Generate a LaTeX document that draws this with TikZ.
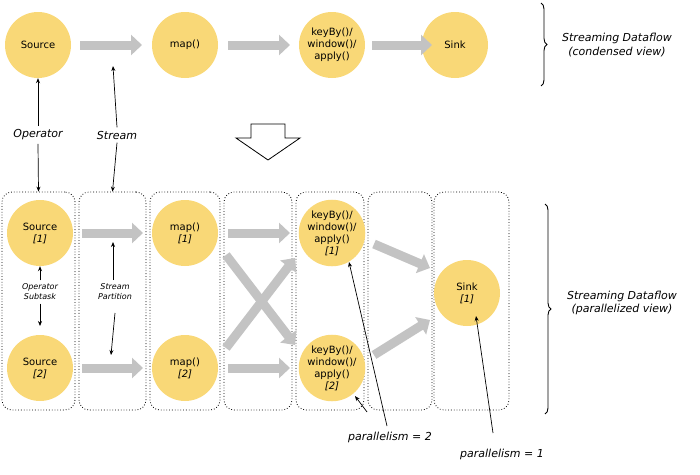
\documentclass[tikz,border=0pt]{standalone}
\usepackage{fontspec}
\setmainfont{DejaVu Sans}
\usetikzlibrary{arrows.meta,decorations.pathreplacing}
\definecolor{opy}{HTML}{F9D877}
\definecolor{flowg}{HTML}{C3C3C3}
\begin{document}
\begin{tikzpicture}[x=1pt,y=-1pt,
  op/.style={circle,fill=opy,minimum size=66pt,inner sep=0pt,align=center,font=\fontsize{10}{12}\selectfont},
  flow/.style={draw=flowg,line width=9pt,-{Triangle[length=11pt,width=20pt]}},
  col/.style={draw,dotted,rounded corners=10pt,line width=0.8pt},
  lab/.style={font=\fontsize{11}{13.5}\selectfont\itshape,align=center},
  slab/.style={font=\fontsize{8}{10}\selectfont\itshape,align=center},
  ptr/.style={-{Stealth[length=5pt,width=4pt]},line width=0.7pt},
  brace/.style={decorate,decoration={brace,amplitude=6pt},line width=0.9pt}]
\useasboundingbox (0,0) rectangle (700,474);
% top
\node[op] (s) at (38,45) {Source};
\node[op] (m) at (185,45) {map()};
\node[op] (k) at (332,45) {keyBy()/\\window()/\\apply()};
\node[op] (sk) at (455,45) {Sink};
\coordinate (a1) at (80,45); \coordinate (a2) at (142,45);
\coordinate (b1) at (228,45); \coordinate (b2) at (290,45);
\coordinate (c1) at (372,45); \coordinate (c2) at (432,45);
\draw[flow] (a1) -- (a2); \draw[flow] (b1) -- (b2); \draw[flow] (c1) -- (c2);
\coordinate (br1a) at (541,3); \coordinate (br1b) at (541,86);
\draw[brace] (br1a) -- (br1b);
\node[lab] (cv) at (617,45) {Streaming Dataflow\\(condensed view)};
\node[lab] (opl) at (38,135) {Operator};
\node[lab] (stl) at (117,135) {Stream};
\draw[line width=0.8pt,fill=white] (251,124) -- (285,124) -- (285,138) -- (300,138) -- (268,160) -- (236,138) -- (251,138) -- cycle;
% columns
\node[col,minimum width=73pt,minimum height=218pt] (c1c) at (38.5,301) {};
\node[col,minimum width=67pt,minimum height=218pt] (c2c) at (112.5,301) {};
\node[col,minimum width=70pt,minimum height=218pt] (c3c) at (185,301) {};
\node[col,minimum width=68pt,minimum height=218pt] (c4c) at (258,301) {};
\node[col,minimum width=68pt,minimum height=218pt] (c5c) at (330,301) {};
\node[col,minimum width=64pt,minimum height=218pt] (c6c) at (400,301) {};
\node[col,minimum width=75pt,minimum height=218pt] (c7c) at (471.5,301) {};
\draw[ptr] (opl.north) -- (s.south);
\draw[ptr] (opl.south) -- (c1c.north);
\draw[ptr] (stl.north) -- (113,66);
\draw[ptr] (stl.south) -- (c2c.north);
% lower nodes
\node[op] (s1) at (40,233) {Source\\{\itshape [1]}};
\node[op] (s2) at (40,368) {Source\\{\itshape [2]}};
\node[op] (m1) at (185,233) {map()\\{\itshape [1]}};
\node[op] (m2) at (185,368) {map()\\{\itshape [2]}};
\node[op] (k1) at (332,233) {keyBy()/\\window()/\\apply()\\{\itshape [1]}};
\node[op] (k2) at (332,368) {keyBy()/\\window()/\\apply()\\{\itshape [2]}};
\node[op] (sn) at (467,293) {Sink\\{\itshape [1]}};
\coordinate (p1) at (82,233); \coordinate (p2) at (143,233);
\coordinate (p3) at (82,368); \coordinate (p4) at (143,368);
\coordinate (q1) at (228,233); \coordinate (q2) at (290,233);
\coordinate (q3) at (228,368); \coordinate (q4) at (290,368);
\coordinate (x1) at (226,255); \coordinate (x2) at (295,345);
\coordinate (x3) at (226,348); \coordinate (x4) at (295,258);
\coordinate (r1) at (374,244); \coordinate (r2) at (430,268);
\coordinate (r3) at (374,355); \coordinate (r4) at (430,320);
\draw[flow] (p1) -- (p2); \draw[flow] (p3) -- (p4);
\draw[flow] (q1) -- (q2); \draw[flow] (q3) -- (q4);
\draw[flow] (x1) -- (x2); \draw[flow] (x3) -- (x4);
\draw[flow] (r1) -- (r2); \draw[flow] (r3) -- (r4);
\node[slab] (ost) at (40,292) {Operator\\Subtask};
\node[slab] (spl) at (115,292) {Stream\\Partition};
\draw[ptr] (ost.north) -- (s1.south);
\draw[ptr] (ost.south) -- (40,326);
\draw[ptr] (113,280) -- (113,242);
\draw[ptr] (115,313) -- (111,355);
\node[lab] (p2l) at (390,437) {parallelism = 2};
\node[lab] (p1l) at (502,454) {parallelism = 1};
\coordinate (pa) at (387,426); \coordinate (pb) at (367,412);
\coordinate (pc) at (493,433);
\draw[ptr] (pa) -- (349,262);
\draw[ptr] (pb) -- (355,396);
\draw[ptr] (pc) -- (476,316);
\coordinate (br2a) at (545,204); \coordinate (br2b) at (545,414);
\draw[brace] (br2a) -- (br2b);
\node[lab] (pv) at (622,303) {Streaming Dataflow\\(parallelized view)};
\end{tikzpicture}
\end{document}
